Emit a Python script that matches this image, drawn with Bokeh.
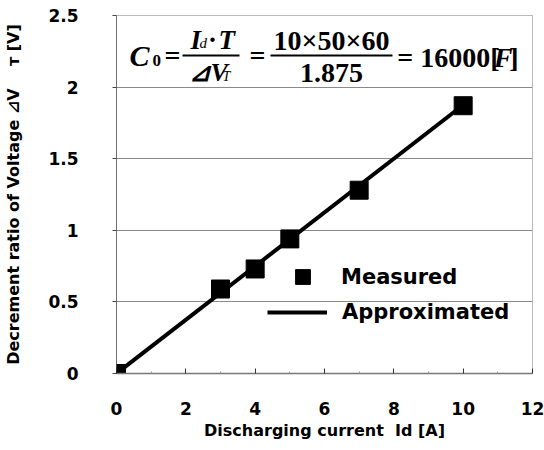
import numpy as np
from bokeh.plotting import figure
from bokeh.models import (Label, BoxAnnotation, Legend, LegendItem, FixedTicker,
                          NumeralTickFormatter, Range1d)
from bokeh.embed import file_html
from bokeh.resources import INLINE

# ---- data ----
measured_x = [0, 3, 4, 5, 7, 10]
measured_y = [0, 0.59, 0.73, 0.94, 1.28, 1.87]
approx_x = [0, 10]
approx_y = [0, 1.875]
x_ticks = [0, 2, 4, 6, 8, 10, 12]
y_ticks = [0, 0.5, 1, 1.5, 2, 2.5]
NB = "\u00a0"
x_title = "Discharging current" + NB * 2 + "Id" + NB + "[A]"
y_title = "Decrement ratio of Voltage ⊿V" + NB * 4 + "ᴛ" + NB + "[V]"

W, H = 544, 450
FL, FR, FT, FB = 116, 532, 15, 373   # frame edges in pixels
p = figure(width=W, height=H, output_backend="svg", toolbar_location=None,
           x_range=Range1d(0, 12), y_range=Range1d(0, 2.5),
           min_border_left=FL, min_border_right=W - FR, min_border_top=FT,
           min_border_bottom=H - FB)
p.background_fill_color = "white"
p.border_fill_color = "white"
p.outline_line_color = "#777777"
p.outline_line_dash = "1 1"

# grid
p.xgrid.grid_line_color = None
p.ygrid.grid_line_color = "#8a8a8a"
p.ygrid.grid_line_width = 1

# axes
tick_font = "DejaVu Sans"
p.xaxis.ticker = FixedTicker(ticks=x_ticks, minor_ticks=[1, 3, 5, 7, 9, 11])
p.yaxis.ticker = FixedTicker(ticks=y_ticks)
p.yaxis.formatter = NumeralTickFormatter(format="0.[0]")
for ax in (p.xaxis[0], p.yaxis[0]):
    ax.major_label_text_font = tick_font
    ax.major_label_text_font_style = "bold"
    ax.major_label_text_font_size = "17px"
    ax.major_label_text_color = "black"
    ax.axis_label_text_font = "DejaVu Sans"
    ax.axis_label_text_font_style = "bold"
    ax.axis_label_text_font_size = "16px"
    ax.axis_label_text_color = "black"
p.xaxis.axis_label = x_title
p.yaxis.axis_label = y_title
p.xaxis.axis_line_color = "#777777"
p.xaxis.axis_line_width = 1.5
p.xaxis.major_tick_in = 5
p.xaxis.major_tick_out = 0
p.xaxis.major_tick_line_color = "#333333"
p.xaxis.minor_tick_in = 2
p.xaxis.minor_tick_out = 0
p.xaxis.minor_tick_line_color = "#999999"
p.xaxis.major_label_standoff = 28
p.xaxis.axis_label_standoff = 3
p.yaxis.axis_line_color = "#222222"
p.yaxis.axis_line_dash = "1 1"
p.yaxis.major_tick_in = 0
p.yaxis.major_tick_out = 4
p.yaxis.major_tick_line_color = "#444444"
p.yaxis.minor_tick_line_color = None
p.yaxis.major_label_standoff = 34
p.yaxis.axis_label_standoff = 22

# data marks
line_r = p.line(approx_x, approx_y, line_color="black", line_width=4)
sq_r = p.scatter(measured_x, measured_y, marker="square", size=18,
                 fill_color="black", line_color="black")

# legends
leg_font = "DejaVu Sans"
legA = Legend(items=[LegendItem(label="Measured", renderers=[sq_r])],
              location=(168, 78), glyph_width=37, glyph_height=37,
              label_standoff=20, padding=0, margin=0, spacing=0,
              border_line_alpha=0, background_fill_alpha=0,
              label_text_font=leg_font, label_text_font_style="bold",
              label_text_font_size="21px", label_text_color="black")
legB = Legend(items=[LegendItem(label="Approximated", renderers=[line_r])],
              location=(151, 49), glyph_width=60, glyph_height=20,
              label_standoff=15, padding=0, margin=0, spacing=0,
              border_line_alpha=0, background_fill_alpha=0,
              label_text_font=leg_font, label_text_font_style="bold",
              label_text_font_size="21px", label_text_color="black")
p.add_layout(legA, "center")
p.add_layout(legB, "center")

# helpers: reference pixel -> data coordinates (layout only)
def xd(px):
    return (px - FL) / ((FR - FL) / 12)

def yd(py):
    return (FB - py) / ((FB - FT) / 2.5)

def lab(text, px, py, size, style="bold", font="Liberation Serif", align="left",
        baseline="middle"):
    p.add_layout(Label(x=xd(px), y=yd(py), text=text, text_font=font,
                       text_font_style=style, text_font_size=f"{size}px",
                       text_align=align, text_baseline=baseline,
                       text_color="black"))

# ---- formula ----
lab("C", 129, 55, 30, "bold italic")
lab("0", 152, 60, 17, "bold")
lab("=", 172, 55, 28, "bold", align="center")
lab("I", 190, 39, 27, "bold italic")
lab("d", 199, 42, 15, "italic")
lab("·", 212, 39, 27, "bold", align="center")
lab("T", 218, 39, 27, "bold italic")
p.add_layout(BoxAnnotation(left=xd(182), right=xd(239), top=yd(54), bottom=yd(56),
                           fill_color="black", fill_alpha=1, line_alpha=0))
lab("⊿V", 188, 72, 26, "bold italic")
lab("T", 222, 76, 14, "italic")
lab("=", 257, 55, 28, "bold", align="center")
lab("10×50×60", 331, 40, 28, "bold", align="center")
p.add_layout(BoxAnnotation(left=xd(270), right=xd(392), top=yd(54), bottom=yd(56),
                           fill_color="black", fill_alpha=1, line_alpha=0))
lab("1.875", 331, 72, 28, "bold", align="center")
lab("= 16000[", 499, 57, 28, "bold", align="right")
lab("F", 512, 57, 28, "bold italic", align="right")
lab("]", 518, 57, 28, "bold", align="right")

open("out.html", "w").write(file_html(p, INLINE))
